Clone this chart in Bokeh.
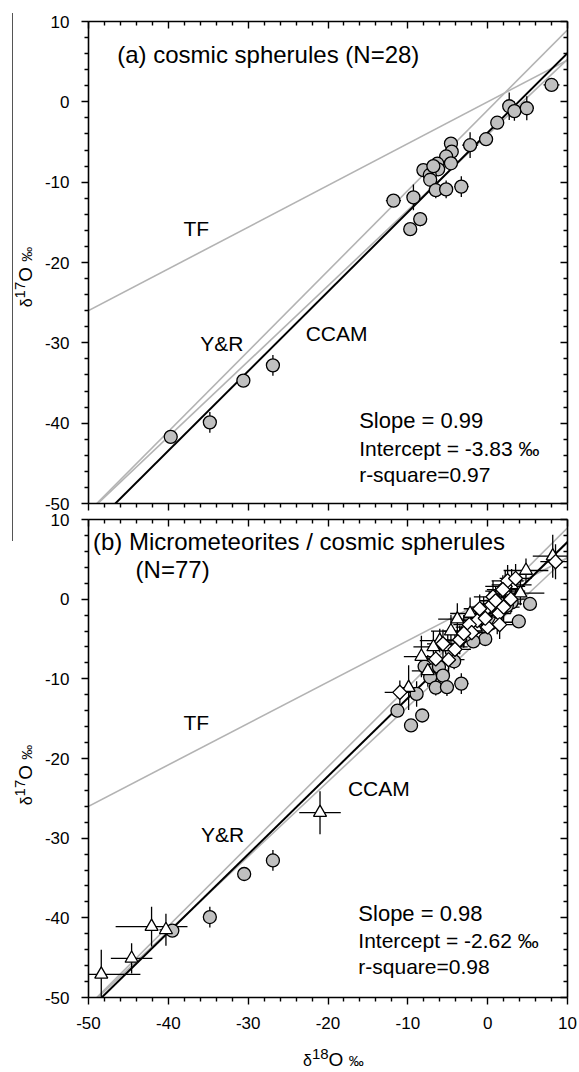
import numpy as np
from bokeh.plotting import figure
from bokeh.models import (Range1d, LinearAxis, Label, FixedTicker, Div,
                          CustomLabelingPolicy)
from bokeh.layouts import column, row
from bokeh.embed import file_html
from bokeh.resources import INLINE

FONT = "Liberation Sans"

# ---------------- data ----------------
# reference lines: (slope, intercept)
tf_line = (0.52, 0.0)
ccam_line = (0.94, -4.1)
yr_line = (1.0, -1.04)
fit_a = (0.99, -3.83)
fit_b = (0.98, -2.62)

major_ticks = [-50, -40, -30, -20, -10, 0, 10]
minor_ticks = [-48, -46, -44, -42, -38, -36, -34, -32, -28, -26, -24, -22,
               -18, -16, -14, -12, -8, -6, -4, -2, 2, 4, 6, 8]
tick_labels = {t: str(t) for t in major_ticks}

# panel (a) cosmic spherules
a_x = [8.0, 2.7, 3.35, 4.9, 1.2, -0.2, -2.2, -4.6, -4.5, -5.2, -4.6, -6.3, -6.2, -8.05,
       -7.25, -7.2, -6.5, -5.2, -3.3, -9.3, -11.8, -8.45, -9.7, -26.9, -30.6, -34.8, -39.7, -6.8]
a_y = [2.1, -0.55, -1.15, -0.8, -2.6, -4.65, -5.4, -5.2, -6.2, -6.8, -7.65, -7.7, -8.4, -8.5,
       -9.1, -9.7, -11.0, -10.9, -10.55, -11.9, -12.3, -14.6, -15.85, -32.8, -34.7, -39.9, -41.7, -8.0]
a_sx = [1.0, 0.8, 0.6, 0.9, 0.5, 0.4, 1.0, 0.5, 0.5, 0.5, 0.5, 0.5, 0.5, 0.5,
        0.5, 0.5, 0.5, 0.5, 0.9, 0.6, 0.95, 0.5, 0.4, 0.5, 0.3, 0.5, 0.3, 0.5]
a_sy = [0.5, 1.7, 1.2, 1.5, 0.6, 0.5, 1.6, 0.8, 0.8, 0.8, 0.8, 0.8, 0.8, 0.8,
        0.8, 0.8, 1.0, 1.1, 1.3, 1.6, 0.5, 0.9, 0.5, 1.3, 0.3, 1.3, 0.3, 0.8]

# panel (b) circles (cosmic spherules)
bc_x = [5.3, 3.9, 3.0, -0.3, -1.8, -7.9, -6.95, -6.1, -7.2, -5.6, -6.5, -5.1, -3.3,
        -8.9, -11.3, -8.2, -9.6, -26.9, -30.5, -34.8, -39.5, 2.4, 0.5, -2.8, -4.5, -4.2]
bc_y = [-0.6, -2.8, -0.4, -5.0, -5.3, -8.45, -8.95, -8.5, -9.8, -9.6, -11.1, -11.05, -10.6,
        -11.9, -14.0, -14.6, -15.85, -32.8, -34.5, -39.9, -41.6, -0.8, -3.0, -4.5, -6.5, -7.8]
bc_sx = [0.5, 0.5, 0.5, 0.5, 0.5, 0.5, 0.5, 0.5, 0.5, 0.5, 0.5, 0.5, 0.9,
         0.6, 0.5, 0.5, 0.4, 0.5, 0.3, 0.5, 0.3, 0.5, 0.5, 0.5, 0.5, 0.5]
bc_sy = [0.5, 0.5, 1.2, 0.5, 0.6, 0.8, 0.8, 0.8, 0.8, 0.8, 1.0, 1.1, 1.3,
         1.6, 0.5, 0.5, 0.5, 1.3, 0.3, 1.3, 0.3, 1.0, 1.0, 1.0, 1.0, 1.0]

# panel (b) triangles (micrometeorites)
bt_x = [-48.4, -44.6, -42.1, -40.3, -21.0, -9.9, -8.3, -6.0, -3.8, 4.1, 4.8, 8.15,
        1.2, -1.5, -5.0, -3.0, 2.2, -6.8, -2.2, 0.2, -4.6, 1.8, 3.0, -7.5]
bt_y = [-47.1, -45.1, -41.1, -41.5, -26.8, -11.1, -7.2, -5.2, -2.5, 0.75, 3.6, 5.4,
        -2.9, -3.5, -6.0, -4.0, 1.0, -6.0, -1.8, -1.0, -4.0, -0.6, 1.8, -9.0]
bt_sx = [4.9, 2.6, 4.5, 0.8, 2.6, 0.8, 2.2, 2.5, 2.4, 3.0, 2.8, 2.5,
         2.0, 2.5, 2.5, 2.5, 2.5, 2.5, 2.5, 2.5, 2.5, 2.5, 2.5, 2.0]
bt_sy = [3.1, 1.9, 2.5, 2.0, 2.7, 2.8, 2.6, 1.5, 2.0, 1.5, 1.5, 2.7,
         1.5, 2.0, 2.0, 2.0, 2.0, 2.0, 2.0, 2.0, 2.0, 2.0, 2.0, 2.0]

# panel (b) diamonds (micrometeorites)
bd_x = [8.5, 2.2, 2.5, 0.67, 0.4, 1.4, -1.3, -2.3, -3.5, -4.1, -4.9, -11.0, 1.9, 2.9,
        -0.5, 0.0, 1.5, -2.0, -5.6, -1.0, -3.0, 1.0, 2.0, -0.3, 3.5, -6.5]
bd_y = [4.7, 1.6, 2.3, 0.3, -0.8, -1.8, -2.7, -3.2, -5.1, -6.3, -7.6, -11.7, 1.2, 0.0,
        -1.5, -3.5, -3.2, -4.2, -5.6, -1.2, -4.3, -0.2, -1.0, -2.4, 2.6, -7.5]
bd_sx = [1.9, 2.5, 2.0, 2.4, 1.5, 1.5, 2.0, 2.0, 2.0, 2.0, 2.0, 1.9, 2.0, 2.0,
         2.0, 2.0, 2.0, 2.0, 2.0, 2.0, 2.0, 2.0, 2.0, 2.0, 2.0, 2.0]
bd_sy = [2.2, 2.0, 2.0, 2.0, 1.5, 1.5, 1.8, 1.8, 1.8, 1.8, 1.8, 1.5, 1.8, 1.8,
         1.8, 1.8, 1.8, 1.8, 1.8, 1.8, 1.8, 1.8, 1.8, 1.8, 1.8, 1.8]

X_RANGE = (-50, 10)
Y_RANGE = (-50, 10)

GRAY = "#b3b3b3"
FILL_GRAY = "#c0c0c0"

# layout (pixels of the 579 x 1072 page)
SIDE_W = 40                # left strip with the rule and the y titles
FRAME_L, FRAME_R = 88, 567
A_TOP, A_BOT = 21, 503
B_TOP, B_BOT = 519, 997
A_END = 515                # page y where panel (a) canvas ends
B_START = 503              # page y where panel (b) canvas starts (overlaps a, transparent)
B_END = 1042               # page y where panel (b) canvas ends
PAGE_H = 1072

HIDE_ALL = CustomLabelingPolicy(code="for (const i of indices) indices.unset(i)")


def style_axis(ax, outward, labels):
    ax.ticker = FixedTicker(ticks=major_ticks, minor_ticks=minor_ticks)
    ax.axis_line_width = 1.6
    ax.axis_line_color = "black"
    ax.major_tick_line_width = 1.4
    ax.minor_tick_line_width = 1.4
    ax.major_tick_line_color = "black"
    ax.minor_tick_line_color = "black"
    if outward:
        ax.major_tick_out, ax.major_tick_in = 7, 0
        ax.minor_tick_out, ax.minor_tick_in = 4, 0
    else:
        ax.major_tick_out, ax.major_tick_in = 0, 7
        ax.minor_tick_out, ax.minor_tick_in = 0, 4
    if labels:
        ax.major_label_overrides = tick_labels
        ax.major_label_text_font = FONT
        ax.major_label_text_font_size = "17px"
        ax.major_label_text_color = "black"
        ax.major_label_standoff = 12
    else:
        ax.major_label_policy = HIDE_ALL
        ax.major_label_text_font_size = "0px"
        ax.major_label_standoff = 0


def make_panel(top_px, bot_px, height, x_labels, **extra):
    p = figure(width=579 - SIDE_W, height=height,
               frame_width=FRAME_R - FRAME_L, frame_height=bot_px - top_px,
               x_range=Range1d(*X_RANGE), y_range=Range1d(*Y_RANGE),
               output_backend="svg", toolbar_location=None,
               min_border_left=FRAME_L - SIDE_W, min_border_right=579 - FRAME_R,
               min_border_top=top_px, min_border_bottom=height - bot_px,
               background_fill_color="white", **extra)
    p.grid.visible = False
    p.outline_line_color = None
    style_axis(p.below[0], True, x_labels)
    style_axis(p.left[0], True, True)
    top_ax = LinearAxis()
    style_axis(top_ax, False, False)
    p.add_layout(top_ax, "above")
    right_ax = LinearAxis()
    style_axis(right_ax, False, False)
    p.add_layout(right_ax, "right")
    return p


def ref_lines(p, fit):
    xs = np.array([-60.0, 20.0])
    for slope, icpt in (tf_line, ccam_line, yr_line):
        p.line(xs, slope * xs + icpt, line_color=GRAY, line_width=1.6)
    p.line(xs, fit[0] * xs + fit[1], line_color="black", line_width=2.0)


def error_bars(p, x, y, sx, sy):
    x = np.array(x); y = np.array(y); sx = np.array(sx); sy = np.array(sy)
    p.segment(x - sx, y, x + sx, y, line_color="black", line_width=1.3)
    p.segment(x, y - sy, x, y + sy, line_color="black", line_width=1.3)


def add_text(p, x, y, txt, size):
    p.add_layout(Label(x=x, y=y, text=txt, text_font=FONT, text_font_size=size,
                       text_baseline="middle", text_align="left", text_color="black"))


def title_html(sup):
    s = ("<span style=\"font-size:16px\">δ</span>"
         "<span style=\"font-size:15px;position:relative;top:-7px\">%s</span>"
         "O <span style=\"font-size:15px\">‰</span>") % sup
    return s


FONT_CSS = "font-family:'Liberation Sans',Arial,sans-serif;color:black;"

# ---------------- panel (a) ----------------
pa = make_panel(A_TOP, A_BOT, A_END, False, border_fill_color="white")
ref_lines(pa, fit_a)
error_bars(pa, a_x, a_y, a_sx, a_sy)
pa.scatter(a_x, a_y, marker="circle", size=13, fill_color=FILL_GRAY,
           line_color="black", line_width=1.3)
add_text(pa, -46.4, 5.9, "(a) cosmic spherules (N=28)", "24px")
add_text(pa, -38.1, -15.8, "TF", "21px")
add_text(pa, -36.0, -30.1, "Y&R", "21px")
add_text(pa, -22.8, -28.8, "CCAM", "21px")
add_text(pa, -16.1, -39.7, "Slope = 0.99", "22px")
add_text(pa, -16.1, -43.1, "Intercept = -3.83 ‰", "21px")
add_text(pa, -16.1, -46.4, "r-square=0.97", "21px")

# ---------------- panel (b) ----------------
pb = make_panel(B_TOP - B_START, B_BOT - B_START, B_END - B_START, True,
                border_fill_color=None, margin=(B_START - A_END, 0, 0, 0))
ref_lines(pb, fit_b)
error_bars(pb, bc_x, bc_y, bc_sx, bc_sy)
error_bars(pb, bt_x, bt_y, bt_sx, bt_sy)
error_bars(pb, bd_x, bd_y, bd_sx, bd_sy)
pb.scatter(bc_x, bc_y, marker="circle", size=13, fill_color=FILL_GRAY,
           line_color="black", line_width=1.3)
pb.scatter(bt_x, bt_y, marker="triangle", size=13, fill_color="white",
           line_color="black", line_width=1.3)
pb.scatter(bd_x, bd_y, marker="square", size=10, angle=np.pi / 4, fill_color="white",
           line_color="black", line_width=1.3)
add_text(pb, -49.45, 7.2, "(b) Micrometeorites / cosmic spherules", "24px")
add_text(pb, -44.1, 3.7, "(N=77)", "24px")
add_text(pb, -38.1, -15.5, "TF", "21px")
add_text(pb, -35.9, -29.6, "Y&R", "21px")
add_text(pb, -17.5, -23.8, "CCAM", "21px")
add_text(pb, -16.2, -39.5, "Slope = 0.98", "22px")
add_text(pb, -16.2, -42.8, "Intercept = -2.62 ‰", "21px")
add_text(pb, -16.2, -46.1, "r-square=0.98", "21px")

# ---------------- side strip: rule + y titles ----------------
def ytitle(cy):
    return ('<div style="position:absolute;left:26px;top:%dpx;'
            'transform:translate(-50%%,-50%%) rotate(-90deg);white-space:nowrap;'
            'font-size:19px;line-height:19px;%s">%s</div>' % (cy, FONT_CSS, title_html("17")))


side = Div(text=('<div style="position:relative;width:%dpx;height:%dpx;">' % (SIDE_W, PAGE_H)
                 + '<div style="position:absolute;left:12px;top:13px;width:1px;height:528px;'
                   'background:#555555"></div>'
                 + ytitle(277) + ytitle(277 + B_TOP - A_TOP)
                 + '</div>'),
           width=SIDE_W, height=PAGE_H, margin=(0, 0, 0, 0))

xtitle = Div(text=('<div style="position:relative;width:%dpx;height:%dpx;">'
                   % (579 - SIDE_W, PAGE_H - B_END)
                   + '<div style="position:absolute;left:%dpx;top:8px;white-space:nowrap;'
                     'font-size:19px;line-height:19px;%s">%s</div>'
                   % (303 - SIDE_W, FONT_CSS, title_html("18"))
                   + '</div>'),
             width=579 - SIDE_W, height=PAGE_H - B_END, margin=(0, 0, 0, 0))

layout = row(side, column(pa, pb, xtitle, spacing=0), spacing=0)
open("out.html", "w").write(file_html(layout, INLINE))
